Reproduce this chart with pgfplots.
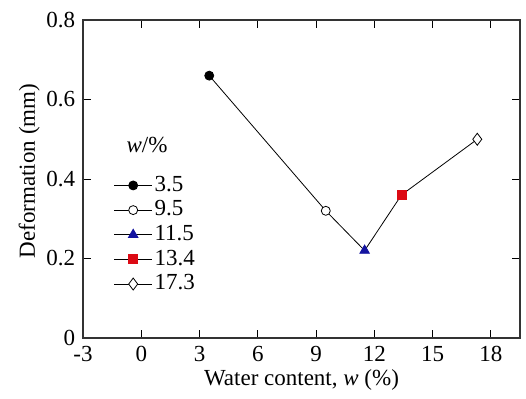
\documentclass[border=0pt]{standalone}
\usepackage{pgfplots}
\pgfplotsset{compat=1.18}
\usepackage{fontspec}
\setmainfont{Liberation Serif}
\definecolor{myblue}{RGB}{20,20,160}
\definecolor{myred}{RGB}{220,10,20}
\begin{document}
\fontsize{23bp}{27bp}\selectfont
\begin{tikzpicture}
\begin{axis}[
 scale only axis, width=437bp, height=318bp,
 xmin=-3, xmax=19.5, ymin=0, ymax=0.8,
 xtick={-3,0,3,6,9,12,15,18},
 ytick={0,0.2,0.4,0.6,0.8}, yticklabels={0,0.2,0.4,0.6,0.8},
 tick align=inside, major tick length=8bp,
 axis line style={line width=1.5bp, black!80},
 every tick/.style={line width=1bp, black},
 /pgf/number format/assume math mode=true,
 tick label style={font=\fontsize{23bp}{27bp}\selectfont},
 label style={font=\fontsize{23bp}{27bp}\selectfont},
 xlabel={Water content, \textit{w} (\%)},
 ylabel={Deformation (mm)},
 xlabel shift=-7bp,
 ylabel shift=-9bp,
 ylabel style={at={(ticklabel cs:0.525)}},
 legend style={draw=none, fill=none, at={(rel axis cs:0.07,0.516)}, anchor=north west,
   font=\fontsize{23bp}{27bp}\selectfont, row sep=2bp, inner sep=0pt},
 legend cell align=left,
 legend image code/.code={\draw[#1, mark repeat=2, mark phase=2] plot coordinates {(0bp,0bp)(19bp,0bp)(38bp,0bp)};},
]
\addplot[black, line width=0.8bp, forget plot] coordinates {(3.5,0.66)(9.5,0.32)(11.5,0.22)(13.4,0.36)(17.3,0.50)};
\addplot[black, line width=0.8bp, mark=*, mark size=4.5bp, mark options={fill=black}] coordinates {(3.5,0.66)};
\addlegendentry{3.5}
\addplot[black, line width=0.8bp, mark=*, mark size=4.5bp, mark options={fill=white}] coordinates {(9.5,0.32)};
\addlegendentry{9.5}
\addplot[black, line width=0.8bp, mark=triangle*, mark size=5.5bp, mark options={fill=myblue, draw=myblue}] coordinates {(11.5,0.22)};
\addlegendentry{11.5}
\addplot[black, line width=0.8bp, mark=square*, mark size=4.5bp, mark options={fill=myred, draw=myred}] coordinates {(13.4,0.36)};
\addlegendentry{13.4}
\addplot[black, line width=0.8bp, mark=diamond*, mark size=6bp, mark options={fill=white}] coordinates {(17.3,0.50)};
\addlegendentry{17.3}
\node[font=\fontsize{23bp}{27bp}\selectfont] at (rel axis cs:0.1465,0.607) {\textit{w}/\%};
\end{axis}
\pgfresetboundingbox
\path (current axis.south west) ++(-83bp,-61bp) rectangle ++(526bp,399bp);
\end{tikzpicture}
\end{document}
